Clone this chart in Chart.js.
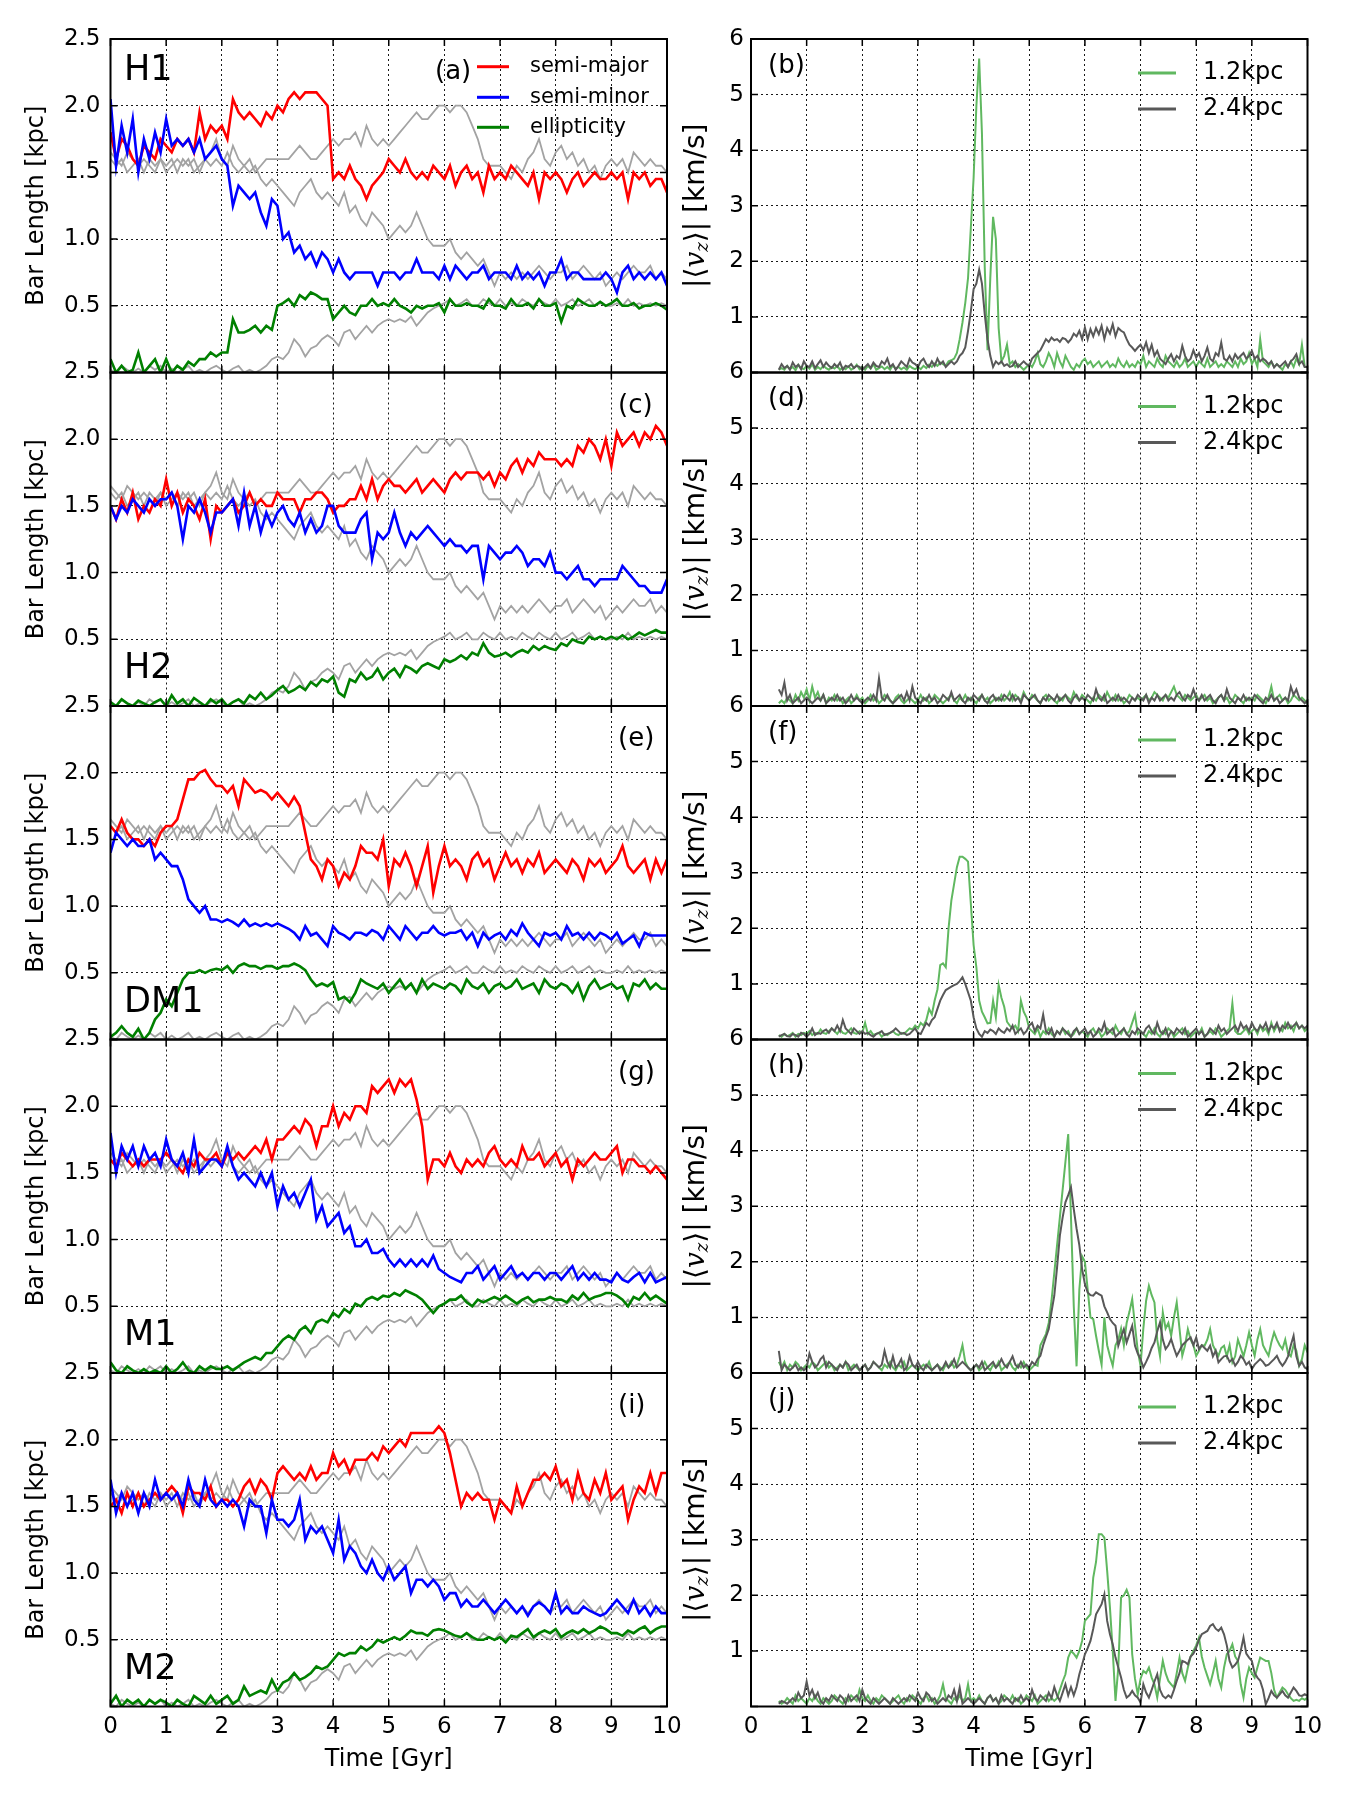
<!DOCTYPE html>
<html><head><meta charset="utf-8"><title>Bar length and vertical velocity</title>
<script src="https://cdn.jsdelivr.net/npm/chart.js@4.4.1/dist/chart.umd.min.js"></script>
<style>
html,body{margin:0;padding:0;background:#fff;}
body{width:1351px;height:1801px;position:relative;overflow:hidden;}
canvas{position:absolute;}
</style></head><body>
<script>
// ---------- time axes ----------
const TIME_L = [0,0.1,0.2,0.3,0.4,0.5,0.6,0.7,0.8,0.9,
1,1.1,1.2,1.3,1.4,1.5,1.6,1.7,1.8,1.9,
2,2.1,2.2,2.3,2.4,2.5,2.6,2.7,2.8,2.9,
3,3.1,3.2,3.3,3.4,3.5,3.6,3.7,3.8,3.9,
4,4.1,4.2,4.3,4.4,4.5,4.6,4.7,4.8,4.9,
5,5.1,5.2,5.3,5.4,5.5,5.6,5.7,5.8,5.9,
6,6.1,6.2,6.3,6.4,6.5,6.6,6.7,6.8,6.9,
7,7.1,7.2,7.3,7.4,7.5,7.6,7.7,7.8,7.9,
8,8.1,8.2,8.3,8.4,8.5,8.6,8.7,8.8,8.9,
9,9.1,9.2,9.3,9.4,9.5,9.6,9.7,9.8,9.9,10];
const TIME_R = [0.5,0.55,0.6,0.65,0.7,0.75,0.8,0.85,0.9,0.95,
1,1.05,1.1,1.15,1.2,1.25,1.3,1.35,1.4,1.45,1.5,1.55,1.6,1.65,1.7,1.75,1.8,1.85,1.9,1.95,
2,2.05,2.1,2.15,2.2,2.25,2.3,2.35,2.4,2.45,2.5,2.55,2.6,2.65,2.7,2.75,2.8,2.85,2.9,2.95,
3,3.05,3.1,3.15,3.2,3.25,3.3,3.35,3.4,3.45,3.5,3.55,3.6,3.65,3.7,3.75,3.8,3.85,3.9,3.95,
4,4.05,4.1,4.15,4.2,4.25,4.3,4.35,4.4,4.45,4.5,4.55,4.6,4.65,4.7,4.75,4.8,4.85,4.9,4.95,
5,5.05,5.1,5.15,5.2,5.25,5.3,5.35,5.4,5.45,5.5,5.55,5.6,5.65,5.7,5.75,5.8,5.85,5.9,5.95,
6,6.05,6.1,6.15,6.2,6.25,6.3,6.35,6.4,6.45,6.5,6.55,6.6,6.65,6.7,6.75,6.8,6.85,6.9,6.95,
7,7.05,7.1,7.15,7.2,7.25,7.3,7.35,7.4,7.45,7.5,7.55,7.6,7.65,7.7,7.75,7.8,7.85,7.9,7.95,
8,8.05,8.1,8.15,8.2,8.25,8.3,8.35,8.4,8.45,8.5,8.55,8.6,8.65,8.7,8.75,8.8,8.85,8.9,8.95,
9,9.05,9.1,9.15,9.2,9.25,9.3,9.35,9.4,9.45,9.5,9.55,9.6,9.65,9.7,9.75,9.8,9.85,9.9,9.95,10];

// ---------- tick labels / names ----------
const X_TICKS = [0,1,2,3,4,5,6,7,8,9,10];
const LEFT_Y_TICKS = [0,0.5,1,1.5,2,2.5];
const RIGHT_Y_TICKS = [0,1,2,3,4,5,6];
const MODELS = ['H1','H2','DM1','M1','M2'];
const LEFT_TAGS = ['(a)','(c)','(e)','(g)','(i)'];
const RIGHT_TAGS = ['(b)','(d)','(f)','(h)','(j)'];
const LEFT_LABELS = ['semi-major','semi-minor','ellipticity'];
const RIGHT_LABELS = ['1.2kpc','2.4kpc'];

// ---------- grey reference curves (same in every left panel) ----------
const GRAY_MAJOR = [1.65,1.6,1.55,1.65,1.6,1.55,1.6,1.55,1.5,1.6,
1.55,1.6,1.5,1.6,1.55,1.6,1.5,1.6,1.65,1.75,
1.6,1.55,1.7,1.6,1.55,1.6,1.5,1.55,1.6,1.6,
1.6,1.6,1.6,1.65,1.7,1.65,1.6,1.6,1.65,1.7,
1.75,1.7,1.75,1.75,1.8,1.7,1.85,1.75,1.7,1.75,
1.7,1.75,1.8,1.85,1.9,1.95,1.9,1.9,1.95,2.0,
2.0,1.95,2.0,2.0,1.95,1.85,1.75,1.6,1.55,1.55,
1.55,1.5,1.45,1.55,1.5,1.6,1.65,1.75,1.6,1.55,
1.65,1.7,1.6,1.65,1.55,1.6,1.5,1.55,1.45,1.55,
1.6,1.55,1.6,1.5,1.65,1.6,1.55,1.6,1.55,1.55,1.5];
const GRAY_MINOR = [1.6,1.55,1.6,1.5,1.55,1.6,1.5,1.6,1.55,1.6,
1.5,1.55,1.6,1.55,1.6,1.5,1.55,1.6,1.55,1.6,
1.55,1.65,1.55,1.5,1.55,1.5,1.55,1.45,1.4,1.45,
1.4,1.35,1.3,1.25,1.35,1.4,1.45,1.35,1.3,1.35,
1.3,1.25,1.35,1.2,1.25,1.15,1.1,1.2,1.15,1.1,
1.0,1.05,1.1,1.05,1.1,1.2,1.1,1.0,0.95,0.95,
0.95,1.0,0.9,0.85,0.9,0.85,0.8,0.85,0.75,0.65,
0.75,0.7,0.75,0.7,0.75,0.7,0.75,0.8,0.75,0.7,
0.75,0.75,0.8,0.7,0.75,0.8,0.75,0.7,0.75,0.65,
0.7,0.75,0.7,0.75,0.8,0.75,0.75,0.8,0.7,0.75,0.7];
const GRAY_ELL = [0.02,0.0,0.05,0.02,0.0,0.03,0.0,0.05,0.02,0.05,
0.0,0.03,0.0,0.02,0.05,0.0,0.02,0.0,0.03,0.05,
0.02,0.0,0.03,0.05,0.0,0.02,0.0,0.02,0.05,0.1,
0.12,0.1,0.15,0.25,0.2,0.12,0.18,0.2,0.25,0.28,
0.25,0.2,0.3,0.32,0.25,0.3,0.35,0.3,0.35,0.38,
0.4,0.38,0.4,0.38,0.42,0.35,0.4,0.45,0.48,0.5,
0.52,0.55,0.5,0.52,0.55,0.5,0.5,0.55,0.52,0.5,
0.55,0.5,0.52,0.5,0.55,0.52,0.5,0.55,0.52,0.5,
0.55,0.5,0.52,0.55,0.5,0.52,0.55,0.5,0.52,0.5,
0.5,0.52,0.5,0.55,0.5,0.52,0.5,0.52,0.5,0.52,0.5];

// ---------- H1 ----------
const H1_MAJOR = [1.8,1.6,1.75,1.7,1.6,1.55,1.7,1.65,1.6,1.75,
1.7,1.65,1.75,1.7,1.75,1.65,1.95,1.75,1.85,1.8,
1.85,1.75,2.05,1.95,1.9,1.95,1.9,1.85,1.95,1.9,
2.0,1.95,2.05,2.1,2.05,2.1,2.1,2.1,2.05,2.0,
1.45,1.5,1.45,1.55,1.45,1.4,1.3,1.4,1.45,1.5,
1.6,1.55,1.5,1.6,1.5,1.45,1.5,1.45,1.55,1.5,
1.45,1.55,1.4,1.5,1.55,1.45,1.5,1.35,1.55,1.45,
1.5,1.45,1.55,1.5,1.45,1.4,1.5,1.3,1.5,1.45,
1.5,1.45,1.35,1.45,1.5,1.4,1.45,1.5,1.45,1.45,
1.5,1.45,1.5,1.3,1.5,1.45,1.5,1.4,1.45,1.45,1.35];
const H1_MINOR = [2.05,1.55,1.85,1.65,1.9,1.5,1.75,1.6,1.8,1.65,
1.9,1.7,1.75,1.7,1.75,1.65,1.75,1.6,1.65,1.7,
1.6,1.55,1.25,1.4,1.35,1.3,1.35,1.2,1.1,1.3,
1.25,1.0,1.05,0.9,0.95,0.85,0.9,0.8,0.9,0.85,
0.75,0.85,0.75,0.7,0.75,0.75,0.75,0.75,0.65,0.75,
0.75,0.75,0.7,0.75,0.75,0.85,0.75,0.75,0.75,0.7,
0.8,0.7,0.8,0.75,0.7,0.75,0.75,0.8,0.7,0.75,
0.75,0.75,0.7,0.8,0.7,0.75,0.7,0.75,0.65,0.75,
0.75,0.85,0.7,0.75,0.75,0.7,0.7,0.7,0.7,0.75,
0.7,0.6,0.75,0.8,0.7,0.75,0.7,0.75,0.7,0.75,0.65];
const H1_ELL = [0.1,0.0,0.05,0.0,0.02,0.15,0.0,0.05,0.1,0.0,
0.1,0.0,0.05,0.02,0.08,0.05,0.1,0.1,0.15,0.12,
0.15,0.15,0.4,0.3,0.3,0.32,0.35,0.3,0.35,0.32,
0.5,0.52,0.55,0.5,0.58,0.55,0.6,0.58,0.55,0.55,
0.4,0.45,0.5,0.45,0.43,0.5,0.5,0.55,0.5,0.52,
0.5,0.55,0.5,0.48,0.45,0.5,0.48,0.5,0.5,0.52,
0.45,0.55,0.5,0.5,0.52,0.5,0.5,0.48,0.55,0.5,
0.5,0.48,0.55,0.5,0.5,0.52,0.48,0.55,0.5,0.5,
0.52,0.38,0.5,0.48,0.55,0.52,0.5,0.5,0.53,0.5,
0.52,0.55,0.5,0.5,0.52,0.48,0.5,0.5,0.52,0.5,0.47];

// ---------- H2 ----------
const H2_MAJOR = [1.5,1.4,1.55,1.45,1.6,1.4,1.5,1.45,1.55,1.5,
1.7,1.5,1.6,1.45,1.55,1.5,1.4,1.55,1.25,1.5,
1.45,1.5,1.55,1.45,1.5,1.6,1.5,1.55,1.5,1.5,
1.6,1.55,1.55,1.55,1.45,1.55,1.55,1.6,1.6,1.55,
1.45,1.5,1.5,1.55,1.55,1.65,1.55,1.7,1.55,1.65,
1.7,1.65,1.65,1.6,1.65,1.7,1.6,1.65,1.7,1.65,
1.6,1.7,1.75,1.7,1.75,1.75,1.75,1.7,1.75,1.65,
1.75,1.7,1.8,1.85,1.75,1.85,1.8,1.9,1.85,1.85,
1.85,1.8,1.85,1.8,1.95,1.9,2.0,1.95,1.85,2.0,
1.8,2.05,1.95,2.0,2.05,1.95,2.05,2.0,2.1,2.05,1.95];
const H2_MINOR = [1.5,1.4,1.5,1.45,1.55,1.5,1.45,1.55,1.5,1.55,
1.55,1.6,1.5,1.25,1.5,1.45,1.55,1.45,1.3,1.45,
1.45,1.5,1.55,1.35,1.6,1.35,1.5,1.3,1.45,1.35,
1.45,1.5,1.4,1.35,1.45,1.3,1.4,1.3,1.35,1.5,
1.5,1.35,1.3,1.3,1.3,1.4,1.45,1.1,1.3,1.25,
1.3,1.45,1.3,1.2,1.3,1.25,1.3,1.35,1.3,1.25,
1.2,1.25,1.2,1.2,1.15,1.2,1.2,0.95,1.2,1.15,
1.1,1.15,1.15,1.2,1.15,1.05,1.1,1.1,1.05,1.15,
1.0,1.0,0.95,1.0,1.05,0.95,0.95,0.9,0.95,0.95,
0.95,0.95,1.05,1.0,0.95,0.9,0.9,0.85,0.85,0.85,0.95];
const H2_ELL = [0.03,0.0,0.05,0.02,0.0,0.04,0.02,0.0,0.03,0.05,
0.0,0.08,0.02,0.05,0.0,0.06,0.03,0.0,0.05,0.02,
0.05,0.0,0.03,0.05,0.02,0.08,0.05,0.1,0.05,0.08,
0.12,0.15,0.1,0.12,0.15,0.12,0.18,0.15,0.2,0.18,
0.22,0.1,0.07,0.2,0.18,0.25,0.2,0.22,0.28,0.2,
0.25,0.28,0.22,0.3,0.28,0.25,0.3,0.32,0.3,0.28,
0.35,0.33,0.35,0.38,0.35,0.4,0.38,0.47,0.4,0.37,
0.38,0.4,0.37,0.4,0.42,0.4,0.45,0.42,0.45,0.43,
0.42,0.47,0.45,0.5,0.48,0.47,0.52,0.5,0.52,0.5,
0.52,0.5,0.53,0.5,0.52,0.55,0.53,0.55,0.57,0.55,0.55];

// ---------- DM1 ----------
const DM1_MAJOR = [1.6,1.55,1.65,1.55,1.5,1.5,1.45,1.5,1.45,1.55,
1.6,1.6,1.65,1.8,1.95,1.95,2.0,2.02,1.95,1.9,
1.9,1.85,1.9,1.75,1.95,1.9,1.85,1.87,1.85,1.8,
1.85,1.8,1.75,1.82,1.75,1.55,1.35,1.3,1.2,1.35,
1.3,1.15,1.25,1.2,1.3,1.45,1.4,1.4,1.35,1.5,
1.15,1.35,1.3,1.4,1.3,1.15,1.3,1.45,1.1,1.3,
1.45,1.3,1.35,1.3,1.2,1.35,1.4,1.3,1.35,1.2,
1.3,1.4,1.3,1.35,1.25,1.35,1.3,1.4,1.25,1.3,
1.35,1.3,1.25,1.35,1.3,1.2,1.35,1.3,1.35,1.25,
1.3,1.35,1.45,1.3,1.25,1.3,1.35,1.2,1.35,1.25,1.35];
const DM1_MINOR = [1.4,1.55,1.5,1.45,1.5,1.45,1.45,1.5,1.35,1.4,
1.35,1.3,1.3,1.2,1.05,1.0,0.95,1.0,0.9,0.9,
0.88,0.9,0.88,0.85,0.9,0.85,0.87,0.85,0.87,0.85,
0.87,0.85,0.83,0.8,0.75,0.85,0.78,0.8,0.75,0.7,
0.85,0.8,0.78,0.75,0.8,0.8,0.78,0.82,0.8,0.75,
0.85,0.8,0.75,0.85,0.8,0.75,0.8,0.8,0.85,0.8,
0.78,0.8,0.8,0.82,0.75,0.8,0.7,0.8,0.75,0.78,
0.8,0.75,0.82,0.78,0.87,0.8,0.75,0.7,0.8,0.78,
0.8,0.75,0.85,0.78,0.8,0.75,0.8,0.75,0.8,0.78,
0.75,0.8,0.72,0.75,0.78,0.7,0.8,0.78,0.78,0.78,0.78];
const DM1_ELL = [0.02,0.05,0.1,0.05,0.02,0.08,0.0,0.05,0.15,0.2,
0.3,0.25,0.35,0.45,0.5,0.5,0.52,0.5,0.52,0.53,
0.52,0.55,0.5,0.55,0.57,0.55,0.55,0.53,0.55,0.55,
0.53,0.55,0.55,0.57,0.55,0.52,0.45,0.4,0.42,0.4,
0.43,0.3,0.32,0.28,0.35,0.45,0.42,0.4,0.38,0.42,
0.35,0.4,0.45,0.38,0.42,0.35,0.45,0.38,0.42,0.4,
0.38,0.42,0.4,0.35,0.45,0.4,0.38,0.42,0.35,0.4,
0.42,0.38,0.4,0.45,0.38,0.4,0.42,0.35,0.45,0.4,
0.38,0.42,0.4,0.35,0.42,0.3,0.4,0.45,0.38,0.4,
0.42,0.38,0.4,0.3,0.42,0.4,0.45,0.38,0.42,0.38,0.38];

// ---------- M1 ----------
const M1_MAJOR = [1.6,1.55,1.65,1.6,1.55,1.6,1.55,1.6,1.6,1.6,
1.65,1.6,1.55,1.5,1.6,1.55,1.65,1.6,1.6,1.65,
1.55,1.65,1.6,1.65,1.6,1.65,1.7,1.65,1.75,1.6,
1.75,1.75,1.8,1.85,1.8,1.9,1.85,1.7,1.85,1.85,
2.0,1.85,1.95,1.9,2.0,2.0,1.95,2.15,2.1,2.15,
2.2,2.1,2.2,2.15,2.2,2.05,1.85,1.45,1.6,1.6,
1.55,1.65,1.55,1.5,1.6,1.55,1.6,1.55,1.65,1.7,
1.6,1.55,1.6,1.55,1.7,1.6,1.6,1.65,1.55,1.6,
1.65,1.55,1.6,1.45,1.6,1.55,1.6,1.65,1.6,1.6,
1.65,1.7,1.5,1.6,1.6,1.55,1.55,1.5,1.55,1.5,1.45];
const M1_MINOR = [1.8,1.5,1.7,1.6,1.7,1.55,1.7,1.6,1.65,1.55,
1.75,1.6,1.55,1.65,1.5,1.75,1.5,1.55,1.6,1.6,
1.55,1.7,1.55,1.45,1.5,1.45,1.4,1.5,1.4,1.5,
1.25,1.4,1.3,1.35,1.25,1.35,1.45,1.15,1.25,1.1,
1.15,1.2,1.05,1.1,0.95,0.95,1.0,0.9,0.9,0.93,
0.85,0.8,0.85,0.8,0.85,0.8,0.85,0.8,0.88,0.78,
0.75,0.72,0.7,0.68,0.75,0.75,0.8,0.7,0.75,0.8,
0.7,0.75,0.8,0.72,0.75,0.7,0.75,0.75,0.7,0.75,
0.75,0.7,0.75,0.8,0.7,0.75,0.7,0.75,0.7,0.7,
0.68,0.75,0.7,0.68,0.72,0.75,0.68,0.75,0.68,0.7,0.72];
const M1_ELL = [0.08,0.02,0.0,0.05,0.02,0.0,0.03,0.0,0.02,0.0,
0.05,0.0,0.03,0.08,0.02,0.0,0.05,0.02,0.05,0.03,
0.03,0.05,0.02,0.05,0.08,0.1,0.12,0.1,0.15,0.15,
0.2,0.25,0.28,0.25,0.32,0.35,0.3,0.38,0.4,0.38,
0.45,0.42,0.48,0.45,0.52,0.5,0.55,0.57,0.55,0.58,
0.57,0.6,0.58,0.62,0.6,0.58,0.55,0.5,0.45,0.5,
0.52,0.55,0.55,0.58,0.53,0.5,0.55,0.53,0.55,0.57,
0.55,0.58,0.55,0.52,0.55,0.57,0.53,0.55,0.55,0.57,
0.55,0.55,0.53,0.58,0.55,0.6,0.55,0.57,0.58,0.6,
0.6,0.58,0.55,0.5,0.57,0.55,0.6,0.55,0.58,0.55,0.52];

// ---------- M2 ----------
const M2_MAJOR = [1.5,1.55,1.45,1.6,1.5,1.6,1.5,1.55,1.6,1.55,
1.6,1.65,1.6,1.45,1.65,1.6,1.6,1.55,1.65,1.5,
1.55,1.55,1.5,1.55,1.65,1.7,1.6,1.7,1.65,1.55,
1.75,1.8,1.75,1.7,1.75,1.7,1.8,1.7,1.75,1.75,
1.9,1.8,1.85,1.75,1.85,1.85,1.85,1.9,1.85,1.95,
1.9,1.95,2.0,1.95,2.05,2.05,2.05,2.05,2.05,2.1,
2.05,1.9,1.7,1.5,1.6,1.55,1.6,1.55,1.55,1.4,
1.55,1.5,1.45,1.65,1.5,1.6,1.7,1.7,1.75,1.7,
1.8,1.65,1.7,1.55,1.75,1.6,1.55,1.7,1.6,1.75,
1.55,1.6,1.65,1.4,1.55,1.65,1.6,1.75,1.6,1.75,1.75];
const M2_MINOR = [1.7,1.45,1.6,1.5,1.6,1.45,1.6,1.5,1.7,1.55,
1.6,1.55,1.6,1.5,1.7,1.55,1.5,1.7,1.55,1.5,
1.55,1.5,1.55,1.5,1.35,1.55,1.5,1.5,1.3,1.55,
1.4,1.4,1.35,1.4,1.55,1.25,1.35,1.3,1.35,1.25,
1.15,1.4,1.1,1.2,1.15,1.05,1.0,1.1,1.0,0.95,
1.05,0.95,1.0,1.05,0.85,0.95,0.95,0.9,0.95,0.9,
0.8,0.85,0.85,0.75,0.8,0.75,0.75,0.8,0.75,0.7,
0.75,0.8,0.75,0.7,0.75,0.68,0.75,0.78,0.75,0.7,
0.85,0.7,0.75,0.7,0.7,0.75,0.72,0.7,0.68,0.7,
0.75,0.8,0.75,0.7,0.8,0.7,0.75,0.68,0.75,0.7,0.7];
const M2_ELL = [0.02,0.08,0.0,0.05,0.02,0.05,0.0,0.05,0.02,0.05,
0.03,0.0,0.05,0.02,0.0,0.08,0.05,0.02,0.08,0.02,
0.05,0.08,0.02,0.05,0.15,0.08,0.1,0.12,0.1,0.2,
0.12,0.18,0.2,0.25,0.2,0.22,0.25,0.3,0.28,0.3,
0.35,0.4,0.38,0.4,0.4,0.45,0.42,0.45,0.5,0.48,
0.5,0.52,0.5,0.53,0.57,0.55,0.55,0.53,0.57,0.58,
0.57,0.55,0.53,0.52,0.55,0.52,0.5,0.5,0.52,0.5,
0.52,0.48,0.53,0.52,0.55,0.58,0.52,0.55,0.57,0.55,
0.58,0.52,0.55,0.57,0.55,0.58,0.55,0.57,0.6,0.58,
0.55,0.55,0.53,0.57,0.55,0.58,0.6,0.55,0.58,0.6,0.6];

// ---------- |<v_z>| at 1.2 kpc and 2.4 kpc ----------
const VZ12_H1 = [0.05,0.08,0.05,0.12,0.06,0.1,0.04,0.14,0.08,0.06,
0.12,0.07,0.15,0.05,0.1,0.06,0.12,0.08,0.05,0.1,0.07,0.12,0.05,0.09,0.06,0.11,0.05,0.08,0.14,0.06,
0.1,0.05,0.12,0.07,0.15,0.05,0.08,0.11,0.06,0.1,0.05,0.13,0.07,0.1,0.06,0.09,0.05,0.12,0.08,0.06,
0.1,0.06,0.12,0.08,0.14,0.1,0.16,0.12,0.18,0.15,0.12,0.2,0.22,0.25,0.35,0.6,0.9,1.25,1.7,2.6,
3.5,4.8,5.65,4.3,1.9,0.4,1.7,2.8,2.4,0.8,0.2,0.3,0.5,0.15,0.2,0.1,0.15,0.1,0.05,0.1,
0.15,0.1,0.2,0.35,0.15,0.1,0.2,0.35,0.25,0.1,0.35,0.2,0.1,0.3,0.2,0.1,0.05,0.15,0.1,0.2,
0.25,0.15,0.2,0.1,0.15,0.2,0.1,0.15,0.2,0.1,0.15,0.1,0.25,0.15,0.1,0.2,0.1,0.15,0.1,0.2,
0.15,0.3,0.1,0.2,0.15,0.1,0.25,0.15,0.1,0.3,0.2,0.15,0.1,0.2,0.1,0.15,0.25,0.1,0.15,0.2,
0.1,0.2,0.15,0.1,0.25,0.1,0.15,0.2,0.1,0.15,0.1,0.2,0.15,0.1,0.2,0.1,0.25,0.15,0.2,0.35,
0.15,0.25,0.1,0.6,0.2,0.15,0.1,0.2,0.1,0.15,0.1,0.05,0.15,0.1,0.2,0.1,0.25,0.15,0.5,0.1,0.1];
const VZ24_H1 = [0.05,0.15,0.08,0.12,0.05,0.18,0.1,0.14,0.06,0.2,
0.12,0.1,0.2,0.08,0.15,0.22,0.1,0.18,0.12,0.08,0.15,0.1,0.18,0.05,0.12,0.1,0.15,0.08,0.12,0.1,
0.05,0.1,0.15,0.08,0.18,0.12,0.1,0.2,0.15,0.25,0.1,0.15,0.05,0.12,0.2,0.15,0.1,0.25,0.18,0.15,
0.1,0.2,0.25,0.15,0.1,0.2,0.12,0.25,0.15,0.2,0.1,0.15,0.2,0.15,0.2,0.3,0.35,0.45,0.75,1.1,
1.5,1.6,1.85,1.6,1.05,0.6,0.3,0.1,0.2,0.15,0.2,0.12,0.15,0.1,0.12,0.2,0.1,0.15,0.2,0.15,
0.12,0.25,0.3,0.35,0.4,0.5,0.6,0.55,0.63,0.58,0.6,0.55,0.62,0.6,0.54,0.6,0.7,0.65,0.75,0.6,
0.81,0.6,0.78,0.65,0.8,0.69,0.84,0.6,0.8,0.7,0.87,0.65,0.8,0.75,0.72,0.6,0.5,0.45,0.39,0.45,
0.5,0.4,0.54,0.35,0.5,0.3,0.39,0.25,0.2,0.15,0.25,0.33,0.2,0.3,0.25,0.48,0.3,0.2,0.25,0.4,
0.27,0.35,0.2,0.3,0.45,0.25,0.2,0.35,0.3,0.54,0.25,0.21,0.3,0.2,0.33,0.25,0.3,0.35,0.25,0.3,
0.39,0.25,0.3,0.2,0.25,0.21,0.15,0.2,0.09,0.15,0.1,0.15,0.2,0.1,0.2,0.25,0.33,0.15,0.2,0.1,0.1];
const VZ12_H2 = [0.05,0.1,0.05,0.15,0.1,0.05,0.2,0.1,0.25,0.15,
0.3,0.1,0.35,0.15,0.25,0.1,0.2,0.05,0.15,0.1,0.2,0.1,0.15,0.05,0.1,0.15,0.05,0.1,0.2,0.1,
0.15,0.05,0.1,0.2,0.1,0.15,0.05,0.1,0.2,0.15,0.1,0.05,0.15,0.2,0.1,0.05,0.1,0.15,0.1,0.05,
0.1,0.2,0.1,0.15,0.05,0.1,0.2,0.15,0.1,0.05,0.1,0.15,0.2,0.1,0.05,0.15,0.1,0.2,0.1,0.15,
0.1,0.05,0.15,0.2,0.1,0.15,0.05,0.1,0.15,0.1,0.2,0.1,0.15,0.25,0.1,0.2,0.15,0.1,0.25,0.15,
0.1,0.2,0.15,0.1,0.05,0.15,0.2,0.1,0.15,0.1,0.05,0.15,0.1,0.2,0.15,0.1,0.25,0.15,0.1,0.2,
0.15,0.1,0.05,0.15,0.1,0.2,0.15,0.1,0.25,0.15,0.1,0.2,0.1,0.15,0.05,0.1,0.2,0.15,0.1,0.15,
0.1,0.15,0.2,0.1,0.15,0.25,0.2,0.15,0.1,0.2,0.15,0.25,0.35,0.2,0.15,0.1,0.2,0.15,0.1,0.15,
0.2,0.1,0.15,0.2,0.1,0.15,0.05,0.1,0.15,0.2,0.1,0.15,0.05,0.1,0.2,0.15,0.1,0.05,0.15,0.1,
0.15,0.1,0.2,0.15,0.1,0.05,0.15,0.35,0.1,0.15,0.2,0.1,0.15,0.05,0.1,0.2,0.15,0.1,0.15,0.1,0.05];
const VZ24_H2 = [0.3,0.2,0.42,0.1,0.2,0.05,0.1,0.15,0.05,0.1,
0.15,0.1,0.05,0.1,0.15,0.1,0.2,0.05,0.1,0.15,0.1,0.2,0.1,0.15,0.05,0.1,0.2,0.1,0.15,0.1,
0.05,0.1,0.15,0.1,0.2,0.1,0.5,0.15,0.1,0.2,0.1,0.05,0.1,0.15,0.2,0.1,0.25,0.1,0.35,0.15,
0.1,0.05,0.15,0.1,0.2,0.1,0.15,0.05,0.1,0.2,0.15,0.1,0.25,0.1,0.15,0.2,0.1,0.05,0.15,0.1,
0.2,0.15,0.1,0.2,0.1,0.05,0.15,0.2,0.1,0.15,0.1,0.2,0.15,0.1,0.2,0.1,0.15,0.05,0.2,0.15,
0.1,0.15,0.2,0.1,0.05,0.15,0.1,0.2,0.15,0.1,0.2,0.1,0.15,0.2,0.1,0.05,0.15,0.2,0.1,0.15,
0.1,0.2,0.15,0.1,0.3,0.15,0.1,0.2,0.05,0.1,0.15,0.1,0.2,0.1,0.15,0.1,0.05,0.15,0.1,0.2,
0.15,0.1,0.2,0.05,0.15,0.1,0.2,0.1,0.15,0.2,0.1,0.15,0.1,0.2,0.25,0.15,0.1,0.2,0.15,0.3,
0.15,0.1,0.2,0.1,0.15,0.2,0.1,0.05,0.15,0.2,0.1,0.3,0.15,0.1,0.05,0.15,0.1,0.2,0.1,0.15,
0.1,0.2,0.15,0.1,0.05,0.15,0.1,0.2,0.1,0.15,0.05,0.1,0.15,0.1,0.35,0.2,0.3,0.15,0.1,0.05,0.1];
const VZ12_DM1 = [0.08,0.05,0.1,0.06,0.08,0.12,0.05,0.1,0.08,0.12,
0.1,0.15,0.08,0.12,0.1,0.18,0.12,0.1,0.15,0.2,0.15,0.1,0.18,0.12,0.1,0.15,0.2,0.12,0.1,0.15,
0.12,0.3,0.1,0.15,0.08,0.1,0.12,0.05,0.1,0.08,0.12,0.15,0.1,0.08,0.12,0.1,0.15,0.2,0.18,0.25,
0.2,0.3,0.25,0.35,0.55,0.45,0.7,0.9,1.34,1.37,1.3,2.0,2.5,2.8,3.1,3.29,3.29,3.25,3.2,2.45,
1.7,1.3,0.7,0.5,0.4,0.29,0.3,0.7,0.4,0.98,0.75,0.59,0.32,0.25,0.2,0.25,0.15,0.7,0.5,0.4,
0.2,0.15,0.1,0.2,0.05,0.15,0.1,0.2,0.1,0.05,0.15,0.1,0.2,0.1,0.15,0.05,0.1,0.2,0.1,0.15,
0.1,0.05,0.15,0.2,0.1,0.15,0.05,0.1,0.2,0.15,0.1,0.25,0.15,0.1,0.2,0.1,0.15,0.3,0.45,0.1,
0.15,0.1,0.05,0.15,0.1,0.2,0.1,0.05,0.15,0.1,0.2,0.15,0.05,0.1,0.15,0.2,0.1,0.15,0.05,0.1,
0.15,0.1,0.2,0.05,0.1,0.15,0.1,0.2,0.15,0.05,0.1,0.15,0.2,0.65,0.15,0.1,0.1,0.15,0.2,0.1,
0.15,0.2,0.1,0.25,0.15,0.2,0.1,0.3,0.15,0.25,0.2,0.15,0.3,0.2,0.25,0.15,0.3,0.2,0.25,0.15,0.2];
const VZ24_DM1 = [0.05,0.08,0.1,0.06,0.05,0.1,0.08,0.05,0.12,0.1,
0.05,0.1,0.2,0.08,0.12,0.1,0.15,0.18,0.12,0.2,0.15,0.25,0.15,0.35,0.2,0.15,0.1,0.2,0.15,0.1,
0.15,0.1,0.12,0.08,0.05,0.1,0.12,0.15,0.08,0.1,0.12,0.15,0.2,0.15,0.1,0.12,0.08,0.1,0.15,0.2,
0.12,0.1,0.2,0.3,0.25,0.35,0.4,0.55,0.7,0.8,0.89,0.92,0.95,0.98,1.0,1.05,1.12,1.0,0.85,0.7,
0.4,0.2,0.1,0.05,0.15,0.12,0.18,0.15,0.1,0.2,0.15,0.12,0.2,0.15,0.25,0.1,0.15,0.2,0.1,0.15,
0.25,0.3,0.15,0.25,0.2,0.45,0.15,0.1,0.2,0.05,0.15,0.1,0.2,0.15,0.1,0.05,0.15,0.2,0.1,0.15,
0.2,0.1,0.15,0.05,0.1,0.2,0.15,0.3,0.1,0.15,0.2,0.05,0.1,0.15,0.2,0.1,0.05,0.15,0.1,0.2,
0.15,0.1,0.2,0.25,0.15,0.1,0.3,0.15,0.1,0.2,0.05,0.15,0.1,0.2,0.15,0.1,0.2,0.05,0.1,0.15,
0.2,0.1,0.15,0.05,0.1,0.2,0.15,0.1,0.25,0.15,0.2,0.1,0.15,0.2,0.25,0.15,0.3,0.2,0.25,0.15,
0.3,0.2,0.15,0.25,0.2,0.3,0.15,0.25,0.2,0.3,0.15,0.25,0.2,0.3,0.2,0.25,0.3,0.2,0.25,0.2,0.25];
const VZ12_M1 = [0.2,0.1,0.2,0.05,0.15,0.1,0.2,0.15,0.05,0.1,
0.15,0.1,0.2,0.15,0.05,0.1,0.15,0.2,0.1,0.15,0.05,0.1,0.15,0.1,0.2,0.05,0.1,0.15,0.1,0.05,
0.1,0.15,0.05,0.1,0.2,0.15,0.1,0.05,0.15,0.1,0.2,0.1,0.05,0.15,0.1,0.2,0.05,0.1,0.15,0.1,
0.05,0.1,0.15,0.1,0.2,0.05,0.1,0.15,0.1,0.05,0.15,0.1,0.2,0.1,0.15,0.3,0.5,0.2,0.1,0.05,
0.1,0.15,0.05,0.1,0.2,0.1,0.05,0.15,0.1,0.2,0.05,0.1,0.15,0.2,0.1,0.05,0.15,0.1,0.2,0.1,
0.05,0.1,0.15,0.13,0.5,0.6,0.7,0.9,1.3,1.8,2.3,2.8,3.3,3.8,4.3,2.8,1.2,0.12,1.5,2.1,
2.0,1.5,1.0,0.97,0.67,0.4,0.15,1.0,0.5,0.3,0.13,0.5,0.6,0.8,0.5,0.9,1.1,1.33,0.85,0.4,
0.13,0.8,1.3,1.57,1.4,1.27,0.6,0.3,1.09,0.8,0.9,0.67,1.0,1.27,0.8,0.31,0.5,0.79,0.6,0.5,
0.31,0.4,0.5,0.49,0.6,0.79,0.5,0.4,0.31,0.45,0.49,0.3,0.5,0.19,0.3,0.6,0.45,0.3,0.5,0.73,
0.5,0.31,0.6,0.79,0.5,0.4,0.31,0.55,0.73,0.6,0.5,0.43,0.6,0.35,0.3,0.5,0.4,0.13,0.25,0.5,0.37];
const VZ24_M1 = [0.4,0.05,0.15,0.1,0.05,0.1,0.15,0.05,0.1,0.05,
0.1,0.35,0.2,0.1,0.15,0.25,0.3,0.1,0.2,0.15,0.1,0.05,0.15,0.1,0.2,0.15,0.05,0.1,0.15,0.05,
0.1,0.15,0.05,0.1,0.2,0.15,0.1,0.15,0.4,0.2,0.1,0.3,0.1,0.15,0.25,0.05,0.1,0.3,0.15,0.1,
0.2,0.1,0.05,0.15,0.1,0.05,0.1,0.15,0.05,0.1,0.2,0.1,0.15,0.25,0.1,0.15,0.2,0.15,0.1,0.05,
0.1,0.15,0.1,0.2,0.05,0.1,0.15,0.2,0.1,0.15,0.25,0.15,0.1,0.2,0.3,0.15,0.1,0.2,0.1,0.15,
0.1,0.2,0.15,0.25,0.31,0.5,0.65,0.79,1.1,1.39,1.9,2.47,2.8,3.07,3.2,3.34,2.95,2.6,2.3,1.87,
1.6,1.45,1.4,1.39,1.45,1.42,1.39,1.2,1.09,0.97,0.9,0.85,0.49,0.65,0.79,0.55,0.7,0.85,0.49,0.35,
0.25,0.1,0.2,0.31,0.45,0.55,0.75,0.91,0.6,0.43,0.5,0.61,0.45,0.31,0.4,0.5,0.55,0.6,0.64,0.5,
0.64,0.43,0.5,0.45,0.4,0.49,0.3,0.4,0.19,0.25,0.3,0.31,0.2,0.25,0.13,0.2,0.31,0.25,0.15,0.2,
0.07,0.15,0.2,0.25,0.2,0.13,0.15,0.2,0.25,0.31,0.2,0.13,0.2,0.3,0.5,0.67,0.3,0.13,0.2,0.1,0.07];
const VZ12_M2 = [0.1,0.05,0.08,0.15,0.1,0.05,0.2,0.1,0.15,0.1,
0.05,0.15,0.1,0.2,0.1,0.05,0.15,0.1,0.05,0.1,0.2,0.15,0.1,0.05,0.15,0.1,0.2,0.15,0.1,0.3,
0.15,0.1,0.2,0.1,0.05,0.15,0.1,0.2,0.15,0.1,0.05,0.1,0.15,0.2,0.1,0.05,0.15,0.1,0.2,0.15,
0.1,0.05,0.15,0.2,0.1,0.15,0.05,0.1,0.2,0.4,0.15,0.1,0.05,0.15,0.1,0.2,0.1,0.15,0.4,0.1,
0.15,0.1,0.2,0.1,0.05,0.15,0.2,0.1,0.15,0.05,0.1,0.2,0.15,0.1,0.2,0.1,0.15,0.05,0.1,0.2,
0.15,0.1,0.2,0.05,0.1,0.15,0.2,0.1,0.15,0.1,0.15,0.3,0.45,0.58,0.88,1.0,0.95,0.88,1.0,1.18,
1.54,1.6,1.66,2.32,2.6,3.1,3.1,3.04,2.44,1.78,1.0,0.1,0.7,1.96,2.0,2.1,1.96,0.94,0.5,0.22,
0.5,0.64,0.6,0.7,0.52,0.4,0.16,0.5,0.82,0.6,0.46,0.4,0.34,0.6,0.88,0.6,0.46,0.7,0.9,1.0,
1.1,1.24,0.9,0.7,0.55,0.4,0.6,0.82,0.5,0.34,0.7,0.94,1.0,1.12,0.9,0.82,0.4,0.16,0.5,0.7,
0.6,0.52,0.7,0.88,0.85,0.82,0.82,0.6,0.3,0.16,0.25,0.34,0.3,0.22,0.15,0.1,0.12,0.1,0.15,0.12,0.16];
const VZ24_M2 = [0.05,0.1,0.08,0.05,0.1,0.15,0.1,0.25,0.15,0.2,
0.45,0.2,0.3,0.15,0.25,0.1,0.05,0.15,0.1,0.2,0.15,0.1,0.2,0.15,0.05,0.2,0.1,0.15,0.2,0.1,
0.3,0.15,0.1,0.05,0.15,0.1,0.05,0.1,0.15,0.1,0.05,0.15,0.1,0.05,0.1,0.15,0.1,0.2,0.15,0.1,
0.25,0.15,0.1,0.25,0.2,0.1,0.15,0.05,0.1,0.15,0.1,0.2,0.15,0.3,0.1,0.34,0.05,0.1,0.15,0.1,
0.05,0.1,0.15,0.1,0.05,0.15,0.2,0.1,0.15,0.05,0.2,0.1,0.15,0.1,0.05,0.15,0.1,0.2,0.1,0.15,
0.1,0.3,0.15,0.1,0.2,0.15,0.1,0.25,0.15,0.35,0.2,0.1,0.25,0.4,0.2,0.35,0.2,0.35,0.58,0.75,
0.94,1.05,1.18,1.4,1.66,1.75,1.84,2.02,1.54,1.3,1.12,0.88,0.7,0.52,0.3,0.16,0.2,0.28,0.2,0.16,
0.07,0.4,0.25,0.16,0.3,0.45,0.58,0.3,0.19,0.15,0.2,0.16,0.3,0.46,0.6,0.82,0.8,0.76,0.9,0.95,
1.06,1.2,1.3,1.33,1.36,1.45,1.48,1.4,1.36,1.42,1.3,1.1,0.82,0.7,0.75,0.82,1.0,1.24,0.95,0.88,
0.82,0.6,0.52,0.46,0.3,0.04,0.15,0.28,0.2,0.16,0.22,0.28,0.2,0.16,0.25,0.34,0.28,0.2,0.19,0.22,0.19];

const LEFT_SERIES = [
  [H1_MAJOR,H1_MINOR,H1_ELL],
  [H2_MAJOR,H2_MINOR,H2_ELL],
  [DM1_MAJOR,DM1_MINOR,DM1_ELL],
  [M1_MAJOR,M1_MINOR,M1_ELL],
  [M2_MAJOR,M2_MINOR,M2_ELL]];
const RIGHT_SERIES = [
  [VZ12_H1,VZ24_H1],[VZ12_H2,VZ24_H2],[VZ12_DM1,VZ24_DM1],[VZ12_M1,VZ24_M1],[VZ12_M2,VZ24_M2]];

// ---------- styling / layout ----------
const FAM = '"DejaVu Sans"';
const C_RED = '#ff0000', C_BLUE = '#0000ff', C_GREEN = '#008000', C_GRAY = '#a3a3a3';
const C_V12 = '#60b860', C_V24 = '#585858';
const ROW_TOP = [39, 372.5, 706, 1039.5, 1373];
const PANEL_H = 333.5;
const COLS = {
  left:  {canvasLeft:0,   canvasW:700, plotL:110.5, plotR:667},
  right: {canvasLeft:676, canvasW:675, plotL:751,   plotR:1307.5}
};

function pts(t, v){ return t.map((x,i)=>({x:x, y:v[i]})); }

function drawVzTitle(ctx, cx, cy){
  const parts = [
    {t:'|\u27E8', f:'28px '+FAM, dy:0},
    {t:'v', f:'italic 28px "DejaVu Serif"', dy:0},
    {t:'z', f:'italic 18px "DejaVu Serif"', dy:6},
    {t:'\u27E9|', f:'28px '+FAM, dy:0},
    {t:' [km/s]', f:'28px '+FAM, dy:0}
  ];
  let total = 0;
  parts.forEach(p=>{ ctx.font=p.f; p.w = ctx.measureText(p.t).width; total += p.w; });
  ctx.save();
  ctx.translate(cx, cy); ctx.rotate(-Math.PI/2);
  ctx.textBaseline='middle'; ctx.textAlign='left'; ctx.fillStyle='#000';
  let x = -total/2;
  parts.forEach(p=>{ ctx.font=p.f; ctx.fillText(p.t, x, p.dy); x += p.w; });
  ctx.restore();
}

function makeDeco(cfg){
  return {
    id: 'deco',
    afterDatasetsDraw(chart){
      const ctx = chart.ctx, a = chart.chartArea, xs = chart.scales.x, ys = chart.scales.y;
      ctx.save();
      // inward ticks on all four sides
      ctx.strokeStyle = '#000'; ctx.lineWidth = 1.5; ctx.beginPath();
      X_TICKS.forEach(v=>{ const p = xs.getPixelForValue(v);
        ctx.moveTo(p, a.bottom); ctx.lineTo(p, a.bottom-7);
        ctx.moveTo(p, a.top); ctx.lineTo(p, a.top+7); });
      cfg.yTicks.forEach(v=>{ const p = ys.getPixelForValue(v);
        ctx.moveTo(a.left, p); ctx.lineTo(a.left+7, p);
        ctx.moveTo(a.right, p); ctx.lineTo(a.right-7, p); });
      ctx.stroke();
      // frame
      ctx.lineWidth = 2;
      ctx.strokeRect(a.left, a.top, a.right-a.left, a.bottom-a.top);
      // texts
      ctx.fillStyle = '#000';
      cfg.texts.forEach(t=>{
        ctx.font = t.font; ctx.textAlign = t.align || 'left'; ctx.textBaseline = 'alphabetic';
        const x = t.center ? (a.left+a.right)/2 : a.left + t.dx;
        ctx.fillText(t.text, x, (t.fromBottom ? a.bottom : a.top) + t.dy);
      });
      // legend
      cfg.legend.forEach(it=>{
        const ds = chart.data.datasets[it.ds];
        ctx.strokeStyle = ds.borderColor; ctx.lineWidth = it.lw;
        ctx.beginPath(); ctx.moveTo(a.left+it.x0, a.top+it.dy); ctx.lineTo(a.left+it.x1, a.top+it.dy); ctx.stroke();
        ctx.fillStyle = '#000'; ctx.font = it.font; ctx.textAlign='left'; ctx.textBaseline = 'middle';
        ctx.fillText(ds.label, a.left+it.tx, a.top+it.dy);
      });
      // y axis title
      const midY = (a.top+a.bottom)/2;
      if (cfg.ytitle === 'left'){
        ctx.save(); ctx.translate(a.left-73.5, midY); ctx.rotate(-Math.PI/2);
        ctx.font = '24px '+FAM; ctx.textAlign='center'; ctx.textBaseline='middle'; ctx.fillStyle='#000';
        ctx.fillText('Bar Length [kpc]', 0, 0); ctx.restore();
      } else {
        drawVzTitle(ctx, a.left-54, midY);
      }
      ctx.restore();
    }
  };
}

function makePanel(col, r, datasets, yMax, yTicks, yFmt, cfg){
  const c = COLS[col];
  const T = ROW_TOP[r];
  const ct = Math.floor(T) - 26;
  const padTop = T - ct;
  const isBottom = (r === ROW_TOP.length-1);
  const xH = isBottom ? 45 : 0;
  const ch = Math.ceil(padTop + PANEL_H + (isBottom ? 95 : 26));
  const padBottom = ch - padTop - PANEL_H - xH;
  const cv = document.createElement('canvas');
  cv.width = c.canvasW; cv.height = ch;
  cv.style.left = c.canvasLeft+'px'; cv.style.top = ct+'px';
  cv.style.width = c.canvasW+'px'; cv.style.height = ch+'px';
  document.body.appendChild(cv);
  cfg.yTicks = yTicks;
  if (isBottom) cfg.texts.push({text:'Time [Gyr]', font:'24px '+FAM, center:true, align:'center', fromBottom:true, dy:59.5});
  const gridOpt = {color:'rgba(0,0,0,0.9)', lineWidth:1, drawTicks:false};
  const borderOpt = {display:false, dash:[2,3]};
  new Chart(cv.getContext('2d'), {
    type:'line',
    data:{datasets: datasets},
    options:{
      responsive:false, animation:false, devicePixelRatio:1, events:[],
      layout:{padding:{left:0, top:padTop, right:c.canvasW-(c.plotR-c.canvasLeft), bottom:padBottom}},
      plugins:{legend:{display:false}, tooltip:{enabled:false}},
      elements:{point:{radius:0}, line:{tension:0}},
      scales:{
        x:{type:'linear', min:0, max:10,
          afterFit:(s)=>{ s.height = xH; },
          afterBuildTicks:(s)=>{ s.ticks = X_TICKS.map(v=>({value:v})); },
          ticks:{display:isBottom, color:'#000', font:{family:'DejaVu Sans', size:23}, padding:7, maxRotation:0, autoSkip:false,
                 callback:(v)=>String(v)},
          grid:gridOpt, border:borderOpt},
        y:{type:'linear', min:0, max:yMax,
          afterFit:(s)=>{ s.width = c.plotL - c.canvasLeft; },
          afterBuildTicks:(s)=>{ s.ticks = yTicks.map(v=>({value:v})); },
          ticks:{color:'#000', font:{family:'DejaVu Sans', size:23}, padding:(col==='left'?10:7), autoSkip:false,
                 callback:yFmt},
          grid:gridOpt, border:borderOpt}
      }
    },
    plugins:[makeDeco(cfg)]
  });
}

// ---------- build the ten panels ----------
for (let r = 0; r < 5; r++){
  const s = LEFT_SERIES[r];
  const lds = [
    {label:LEFT_LABELS[0], data:pts(TIME_L, s[0]), borderColor:C_RED,   borderWidth:2.6, order:2},
    {label:LEFT_LABELS[1], data:pts(TIME_L, s[1]), borderColor:C_BLUE,  borderWidth:2.6, order:1},
    {label:LEFT_LABELS[2], data:pts(TIME_L, s[2]), borderColor:C_GREEN, borderWidth:2.6, order:0},
    {label:'ref-major',    data:pts(TIME_L, GRAY_MAJOR), borderColor:C_GRAY, borderWidth:1.8, order:3},
    {label:'ref-minor',    data:pts(TIME_L, GRAY_MINOR), borderColor:C_GRAY, borderWidth:1.8, order:3},
    {label:'ref-ell',      data:pts(TIME_L, GRAY_ELL),   borderColor:C_GRAY, borderWidth:1.8, order:3}
  ];
  const ltexts = [
    {text:MODELS[r], font:'35px '+FAM, dx:13.5, dy:(r===0?41:-28), fromBottom:(r!==0)},
    {text:LEFT_TAGS[r], font:'26px '+FAM, dx:(r===0?324.5:507.5), dy:40}
  ];
  const lleg = (r===0) ? [
    {ds:0, x0:366.5, x1:398.5, tx:419.5, dy:27.7, lw:3, font:'21px '+FAM},
    {ds:1, x0:366.5, x1:398.5, tx:419.5, dy:58.3, lw:3, font:'21px '+FAM},
    {ds:2, x0:366.5, x1:398.5, tx:419.5, dy:88.3, lw:3, font:'21px '+FAM}
  ] : [];
  makePanel('left', r, lds, 2.5, LEFT_Y_TICKS, (v)=> v===0 ? '' : v.toFixed(1),
    {texts:ltexts, legend:lleg, ytitle:'left'});

  const q = RIGHT_SERIES[r];
  const rds = [
    {label:RIGHT_LABELS[0], data:pts(TIME_R, q[0]), borderColor:C_V12, borderWidth:2, order:1},
    {label:RIGHT_LABELS[1], data:pts(TIME_R, q[1]), borderColor:C_V24, borderWidth:2, order:0}
  ];
  const rtexts = [ {text:RIGHT_TAGS[r], font:'26px '+FAM, dx:17, dy:33.5} ];
  const rleg = [
    {ds:0, x0:387, x1:425, tx:452, dy:34, lw:3, font:'24px '+FAM},
    {ds:1, x0:387, x1:425, tx:452, dy:70, lw:3, font:'24px '+FAM}
  ];
  makePanel('right', r, rds, 6, RIGHT_Y_TICKS, (v)=> v===0 ? '' : String(v),
    {texts:rtexts, legend:rleg, ytitle:'right'});
}
</script>
</body></html>
